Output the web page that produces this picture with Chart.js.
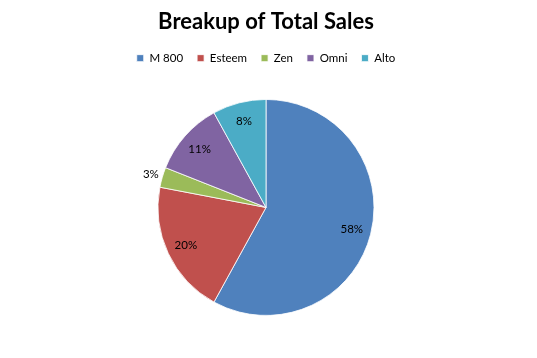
<!DOCTYPE html>
<html><head><meta charset="utf-8">
<script src="https://cdn.jsdelivr.net/npm/chart.js@4/dist/chart.umd.min.js"></script>
<style>html,body{margin:0;padding:0;background:#fff}#w{width:537px;height:358px}</style>
</head><body><div id="w"><canvas id="c"></canvas></div>
<script>
const categories = ["M 800", "Esteem", "Zen", "Omni", "Alto"];
const salesShare = [58, 20, 3, 11, 8];
const sliceColors = ["#4F81BD", "#C0504D", "#9BBB59", "#8064A2", "#4BACC6"];
const chartTitle = "Breakup of Total Sales";

const labelPlugin = {
  id: 'pctLabels',
  afterDatasetsDraw(chart) {
    const ctx = chart.ctx;
    const meta = chart.getDatasetMeta(0);
    const data = chart.data.datasets[0].data;
    const total = data.reduce((a, b) => a + b, 0);
    ctx.save();
    ctx.font = '11.5px Lato, "Liberation Sans", sans-serif';
    ctx.fillStyle = '#000';
    ctx.textAlign = 'center';
    ctx.textBaseline = 'middle';
    meta.data.forEach((arc, i) => {
      const p = arc.getProps(['x', 'y', 'startAngle', 'endAngle', 'outerRadius'], true);
      const mid = (p.startAngle + p.endAngle) / 2;
      const pct = data[i] / total;
      const r = pct < 0.05 ? p.outerRadius * 1.11 : p.outerRadius * 0.82;
      const x = p.x + Math.cos(mid) * r;
      const y = p.y + Math.sin(mid) * r;
      ctx.fillText(Math.round(pct * 100) + '%', x, y);
    });
    ctx.restore();
  }
};

new Chart(document.getElementById('c'), {
  type: 'pie',
  data: {
    labels: categories,
    datasets: [{
      data: salesShare,
      backgroundColor: sliceColors,
      borderColor: 'rgba(255,255,255,0.8)',
      borderWidth: 1
    }]
  },
  options: {
    responsive: true,
    maintainAspectRatio: false,
    animation: false,
    radius: 108,
    layout: { padding: { top: 0, bottom: 17, left: 0, right: 5 } },
    plugins: {
      title: {
        display: true,
        text: chartTitle,
        color: '#000',
        font: { family: 'Lato, "Liberation Sans", sans-serif', size: 22, weight: 'bold' },
        padding: { top: 9, bottom: 3 }
      },
      legend: {
        position: 'top',
        labels: {
          color: '#000',
          font: { family: 'Lato, "Liberation Sans", sans-serif', size: 11.5 },
          boxWidth: 7,
          boxHeight: 7,
          padding: 14
        }
      },
      tooltip: { enabled: false }
    }
  },
  plugins: [labelPlugin]
});
</script>
</body></html>
